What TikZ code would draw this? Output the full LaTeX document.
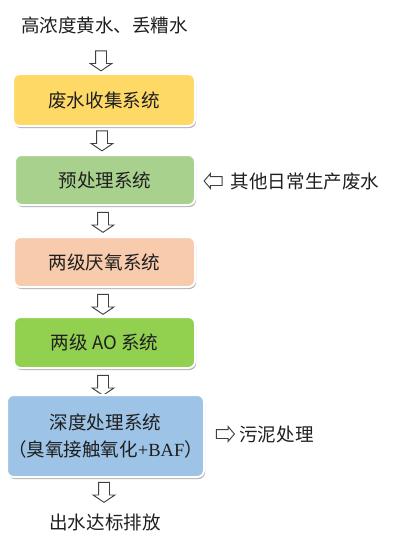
\documentclass[tikz,border=0pt]{standalone}
\usepackage{fontspec}
\setmainfont{Noto Sans CJK SC}
\newfontfamily\latinserif{Liberation Serif}
\usetikzlibrary{shapes.arrows,shadows}

\definecolor{boxyellow}{HTML}{FFD966}
\definecolor{boxgreen}{HTML}{A9D18E}
\definecolor{boxpeach}{HTML}{F8CBAD}
\definecolor{boxlime}{HTML}{92D050}
\definecolor{boxblue}{HTML}{9DC3E6}

\tikzset{
  txt/.style={font=\fontsize{13.9}{20}\selectfont, text=black!88, inner sep=0pt},
  sysbox/.style={txt, draw=white, line width=1.5pt, rounded corners=5pt, align=center,
    drop shadow={shadow xshift=0.8pt, shadow yshift=-1.5pt, fill=black, opacity=0.3}},
  downarrow/.style={single arrow, draw=black!75, fill=white, line width=0.7pt,
    shape border rotate=270, minimum height=15pt, inner sep=3.75pt,
    single arrow head extend=4.1pt, single arrow tip angle=112},
  sidearrow/.style={single arrow, draw=black!75, fill=white, line width=0.7pt,
    minimum height=13.5pt, inner sep=3pt,
    single arrow head extend=2.25pt, single arrow tip angle=100}
}

\begin{document}
\begin{tikzpicture}[x=0.75pt,y=-0.75pt]
% 废水处理工艺流程
\useasboundingbox (0,0) rectangle (400,535);
\node[txt] (in) at (104.5,25) {高浓度黄水、丢糟水};
\node[downarrow] (a1) at (101,59) {};
\node[sysbox, fill=boxyellow, minimum width=136.5pt, minimum height=39pt] (b1) at (104,100) {废水收集系统};
\node[downarrow] (a2) at (102,139) {};
\node[sysbox, fill=boxgreen, minimum width=135pt, minimum height=37.5pt] (b2) at (105,180) {预处理系统};
\node[sidearrow, shape border rotate=180] (a7) at (215,181) {};
\node[txt] (other) at (305,181) {其他日常生产废水};
\node[downarrow] (a3) at (103,220.5) {};
\node[sysbox, fill=boxpeach, minimum width=135.75pt, minimum height=37.5pt] (b3) at (104.5,262) {两级厌氧系统};
\node[downarrow] (a4) at (103,302.5) {};
\node[sysbox, fill=boxlime, minimum width=135.75pt, minimum height=38.25pt] (b4) at (104.5,342.5) {两级 AO 系统};
\node[downarrow] (a5) at (103,383.5) {};
\node[sysbox, fill=boxblue, minimum width=147.75pt, minimum height=61.5pt] (b5) at (105.5,436) {深度处理系统\\（臭氧接触氧化{\latinserif +BAF}）};
\node[sidearrow] (a8) at (223.5,434) {};
\node[txt] (sludge) at (276.5,434) {污泥处理};
\node[downarrow] (a6) at (104,490.5) {};
\node[txt] (out) at (105,522) {出水达标排放};
\end{tikzpicture}
\end{document}
